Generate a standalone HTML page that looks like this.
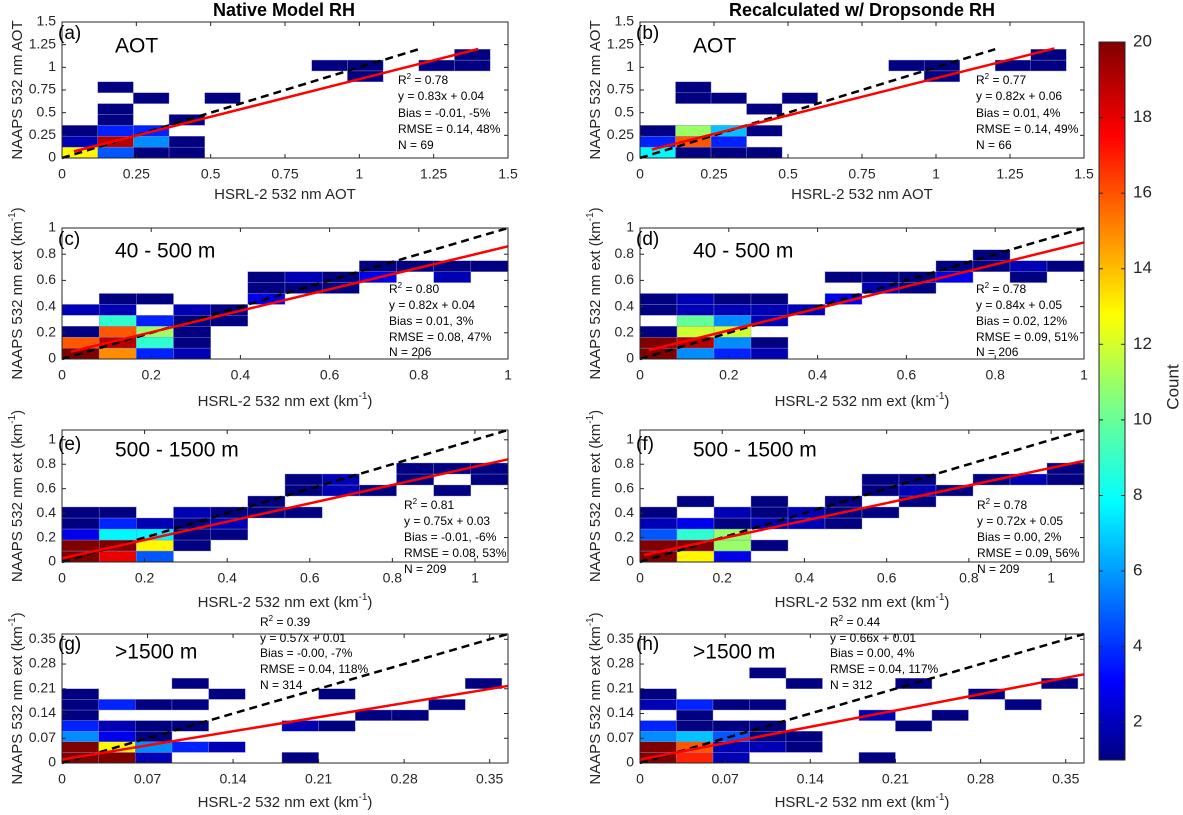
<!DOCTYPE html>
<html><head><meta charset="utf-8"><style>
html,body{margin:0;padding:0;background:#fff;}
svg{display:block;font-family:"Liberation Sans",Arial,sans-serif;}
</style></head><body>
<svg id="fig" width="1183" height="815" viewBox="0 0 1183 815" xmlns="http://www.w3.org/2000/svg">
<defs>
<linearGradient id="jet" x1="0" y1="1" x2="0" y2="0">
<stop offset="0" stop-color="#000080"/><stop offset="0.11" stop-color="#0000ff"/><stop offset="0.36" stop-color="#00ffff"/><stop offset="0.5" stop-color="#80ff80"/><stop offset="0.62" stop-color="#ffff00"/><stop offset="0.87" stop-color="#ff0000"/><stop offset="1" stop-color="#800000"/>
</linearGradient>
</defs>
<text x="284" y="16" font-size="18" font-weight="bold" text-anchor="middle" fill="#000">Native Model RH</text>
<text x="862" y="16" font-size="18" font-weight="bold" text-anchor="middle" fill="#000">Recalculated w/ Dropsonde RH</text>
</svg>
<script>
// ---- data: [column bin, row bin, count] ----
const cellsA = [[0,0,13],[0,1,2],[0,2,1],[1,0,5],[1,1,19],[1,2,4],[1,3,1],[1,4,1],[1,6,1],[2,0,1],[2,1,6],[2,2,4],[2,5,1],[3,0,1],[3,1,1],[3,3,1],[4,5,1],[7,8,1],[8,8,1],[8,7,1],[10,8,1],[11,8,1],[11,9,1]];
const cellsB = [[0,0,8],[0,1,4],[0,2,1],[1,0,1],[1,1,16],[1,2,11],[1,5,1],[1,6,1],[2,0,1],[2,1,4],[2,2,7],[2,5,1],[3,0,1],[3,2,1],[3,4,1],[4,5,1],[7,8,1],[8,8,1],[8,7,1],[10,8,1],[11,8,1],[11,9,1]];
const cellsC = [[0,0,20],[0,1,16],[0,2,1],[0,4,2],[1,0,15],[1,1,19],[1,2,16],[1,3,9],[1,4,2],[1,5,1],[2,0,4],[2,1,9],[2,2,11],[2,3,4],[2,5,1],[3,0,2],[3,1,1],[3,2,1],[3,3,1],[3,4,2],[4,3,1],[4,4,1],[5,5,3],[5,6,1],[5,7,1],[6,6,1],[6,7,2],[7,6,1],[7,7,1],[8,7,3],[8,8,1],[9,8,1],[10,7,2],[10,8,1],[11,8,1]];
const cellsD = [[0,0,20],[0,1,20],[0,2,1],[0,4,1],[0,5,1],[1,0,6],[1,1,19],[1,2,12],[1,3,10],[1,4,2],[1,5,2],[2,0,4],[2,1,6],[2,2,12],[2,3,6],[2,4,2],[2,5,1],[3,0,2],[3,1,1],[3,3,2],[3,4,2],[3,5,1],[4,4,2],[5,5,3],[5,7,1],[6,6,2],[6,7,1],[7,6,1],[7,7,1],[8,7,3],[8,8,1],[9,8,1],[9,9,1],[10,7,1],[10,8,2],[11,8,1]];
const cellsE = [[0,0,20],[0,1,20],[0,2,3],[0,3,1],[0,4,1],[1,0,18],[1,1,20],[1,2,8],[1,3,4],[1,4,1],[2,0,5],[2,1,13],[2,2,8],[2,3,2],[3,1,1],[3,2,1],[3,3,1],[3,4,2],[4,2,1],[4,3,2],[4,4,1],[5,4,1],[5,5,1],[6,4,1],[6,6,1],[6,7,1],[7,6,2],[7,7,2],[8,6,1],[9,7,1],[9,8,1],[10,6,1],[10,8,1],[11,7,1],[11,8,1]];
const cellsF = [[0,0,20],[0,1,20],[0,2,5],[0,3,2],[0,4,1],[1,0,13],[1,1,20],[1,2,9],[1,3,3],[1,5,1],[2,0,3],[2,1,11],[2,2,11],[2,3,1],[2,4,2],[3,1,1],[3,3,2],[3,4,1],[3,5,1],[4,3,2],[4,4,2],[5,3,1],[5,4,1],[5,5,1],[6,4,1],[6,6,1],[6,7,1],[7,5,1],[7,6,2],[7,7,1],[8,6,1],[9,7,1],[10,7,2],[11,7,1],[11,8,1]];
const cellsG = [[0,0,20],[0,1,20],[0,2,6],[0,3,4],[0,4,1],[0,5,1],[0,6,1],[1,0,20],[1,1,13],[1,2,3],[1,3,2],[1,5,4],[2,0,2],[2,1,6],[2,2,1],[2,3,1],[2,5,1],[3,1,4],[3,3,1],[3,5,1],[3,7,1],[4,1,2],[4,6,1],[6,0,1],[6,3,2],[7,3,1],[7,6,1],[8,4,1],[9,4,1],[10,5,1],[11,7,1]];
const cellsH = [[0,0,20],[0,1,20],[0,2,6],[0,3,4],[0,5,2],[0,6,1],[1,0,17],[1,1,16],[1,2,7],[1,3,1],[1,4,1],[1,5,4],[2,0,2],[2,1,2],[2,2,5],[2,3,1],[2,5,1],[3,1,2],[3,2,1],[3,3,1],[3,5,1],[3,8,1],[4,1,1],[4,2,1],[4,7,1],[6,0,1],[6,4,2],[7,3,1],[7,7,1],[8,4,1],[9,6,1],[10,5,1],[11,7,1]];
const slopes = [0.83,0.82,0.82,0.84,0.75,0.72,0.57,0.66];
const intercepts = [0.04,0.06,0.04,0.05,0.03,0.05,0.01,0.01];
const fitStart = [0.04,0.04,0.02,0.02,0,0.01,0,0];
const fitEnd = [1.4,1.4,1,1,1.08,1.08,0.365,0.365];
const oneToOneEnd = [1.2,1.2,1,1,1.08,1.08,0.365,0.365];
const r2Labels = ["0.78","0.77","0.80","0.78","0.81","0.78","0.39","0.44"];
const eqLabels = ["y = 0.83x + 0.04","y = 0.82x + 0.06","y = 0.82x + 0.04","y = 0.84x + 0.05","y = 0.75x + 0.03","y = 0.72x + 0.05","y = 0.57x + 0.01","y = 0.66x + 0.01"];
const biasLabels = ["Bias = -0.01, -5%","Bias = 0.01, 4%","Bias = 0.01, 3%","Bias = 0.02, 12%","Bias = -0.01, -6%","Bias = 0.00, 2%","Bias = -0.00, -7%","Bias = 0.00, 4%"];
const rmseLabels = ["RMSE = 0.14, 48%","RMSE = 0.14, 49%","RMSE = 0.08, 47%","RMSE = 0.09, 51%","RMSE = 0.08, 53%","RMSE = 0.09, 56%","RMSE = 0.04, 118%","RMSE = 0.04, 117%"];
const nLabels = ["N = 69","N = 66","N = 206","N = 206","N = 209","N = 209","N = 314","N = 312"];
const aotTicks = ["0","0.25","0.5","0.75","1","1.25","1.5"];
const extTicks = ["0","0.2","0.4","0.6","0.8","1"];
const highTicks = ["0","0.07","0.14","0.21","0.28","0.35"];
const cbTicks = ["2","4","6","8","10","12","14","16","18","20"];
const panelLetters = ["(a)","(b)","(c)","(d)","(e)","(f)","(g)","(h)"];
const regionLabels = ["AOT","AOT","40 - 500 m","40 - 500 m","500 - 1500 m","500 - 1500 m",">1500 m",">1500 m"];
const binSizes = [0.12,0.12,1/12,1/12,0.09,0.09,0.03,0.03];
const axisMax = [1.5,1.5,1,1,1.08,1.08,0.365,0.365];

// ---- layout (not data) ----
const NS="http://www.w3.org/2000/svg";
const svg=document.getElementById('fig');
const colX=[[62,508],[640,1084]];
const rowY=[[22,158],[228,359],[430,562],[634,763]];
const statX=[[398,976],[389,976],[404,977],[260,830]];
const statY=[[81,97,114,130,146],[290,306,322,338,353],[506,522,538,554,570],[623,639,654,670,686]];
const xTitleY=[195,402,603,803];
const letterY=[34,240,445,645];
const regionY=[47,252,451,653];
const allCells=[cellsA,cellsB,cellsC,cellsD,cellsE,cellsF,cellsG,cellsH];

function mk(tag,attrs,parent){const e=document.createElementNS(NS,tag);for(const k in attrs)e.setAttribute(k,attrs[k]);(parent||svg).appendChild(e);return e;}
function jet(v){const t=Math.max(0,Math.min(1,(v-1)/19));const c=x=>Math.round(255*Math.max(0,Math.min(1,1.5-Math.abs(4*t-x))));return `rgb(${c(3)},${c(2)},${c(1)})`;}

for(let p=0;p<8;p++){
  const col=p%2,row=Math.floor(p/2);
  const [x0,x1]=colX[col],[y0,y1]=rowY[row];
  const max=axisMax[p];
  const sx=v=>x0+(v/max)*(x1-x0);
  const sy=v=>y1-(v/max)*(y1-y0);
  const g=mk('g',{});
  
  
  const bs=binSizes[p];
  for(const c of allCells[p]){
    const r=mk('rect',{x:sx(c[0]*bs),y:sy((c[1]+1)*bs),width:sx((c[0]+1)*bs)-sx(c[0]*bs),height:sy(c[1]*bs)-sy((c[1]+1)*bs),fill:jet(c[2]),stroke:'#8a8ac8','stroke-width':0.4},g);
    
    
  }
  const d=mk('line',{x1:sx(0),y1:sy(0),x2:sx(oneToOneEnd[p]),y2:sy(oneToOneEnd[p]),stroke:'#000','stroke-width':2.5,'stroke-dasharray':'8,5'},g);
  
  
  const f=mk('line',{x1:sx(fitStart[p]),y1:sy(slopes[p]*fitStart[p]+intercepts[p]),x2:sx(fitEnd[p]),y2:sy(slopes[p]*fitEnd[p]+intercepts[p]),stroke:'#ff0000','stroke-width':2.5},g);
  
  
  const fr=mk('rect',{x:x0,y:y0,width:x1-x0,height:y1-y0,fill:'none',stroke:'#262626','stroke-width':1},g);
  
  
  const ticks=row===0?aotTicks:(row===3?highTicks:extTicks);
  for(const t of ticks){
    const v=parseFloat(t);
    mk('line',{x1:sx(v),y1:y1,x2:sx(v),y2:y1-4,stroke:'#262626'},g);
    mk('line',{x1:sx(v),y1:y0,x2:sx(v),y2:y0+4,stroke:'#262626'},g);
    mk('line',{x1:x0,y1:sy(v),x2:x0+4,y2:sy(v),stroke:'#262626'},g);
    mk('line',{x1:x1,y1:sy(v),x2:x1-4,y2:sy(v),stroke:'#262626'},g);
    const xl=mk('text',{x:sx(v),y:y1+17,'font-size':14,'text-anchor':'middle','dominant-baseline':'middle',fill:'#262626'},g);
    xl.textContent=t;
    
    
    const yl=mk('text',{x:x0-6,y:sy(v),'font-size':14,'text-anchor':'end','dominant-baseline':'middle',fill:'#262626'},g);
    yl.textContent=t;
    
    
  }
  const xt=mk('text',{x:(x0+x1)/2,y:xTitleY[row],'font-size':15,'text-anchor':'middle','dominant-baseline':'middle',fill:'#262626'},g);
  
  
  const ytx=col===0?18:596, yc=(y0+y1)/2;
  const yt=mk('text',{x:ytx,y:yc,'font-size':15,'text-anchor':'middle','dominant-baseline':'middle',fill:'#262626',transform:`rotate(-90 ${ytx} ${yc})`},g);
  
  
  if(row===0){xt.textContent='HSRL-2 532 nm AOT';yt.textContent='NAAPS 532 nm AOT';}
  else{
    xt.textContent='HSRL-2 532 nm ext (km';
    mk('tspan',{'baseline-shift':'super','font-size':10},xt).textContent='-1';
    mk('tspan',{},xt).textContent=')';
    yt.textContent='NAAPS 532 nm ext (km';
    mk('tspan',{'baseline-shift':'super','font-size':10},yt).textContent='-1';
    mk('tspan',{},yt).textContent=')';
  }
  const pl=mk('text',{x:x0-4,y:letterY[row],'font-size':19,'dominant-baseline':'middle',fill:'#000'},g);
  pl.textContent=panelLetters[p];
  
  
  const rl=mk('text',{x:x0+53,y:regionY[row],'font-size':21,'dominant-baseline':'middle',fill:'#000'},g);
  rl.textContent=regionLabels[p];
  
  
  const stx=statX[row][col], sty=statY[row];
  const lines=[null,eqLabels[p],biasLabels[p],rmseLabels[p],nLabels[p]];
  for(let i=0;i<5;i++){
    const s=mk('text',{x:stx,y:sty[i],'font-size':12,'dominant-baseline':'middle',fill:'#000'},g);
    
    
    if(i===0){s.textContent='R';mk('tspan',{'baseline-shift':'super','font-size':8},s).textContent='2';mk('tspan',{},s).textContent=' = '+r2Labels[p];}
    else s.textContent=lines[i];
  }
}
const cbX0=1099,cbX1=1125,cbY0=42,cbY1=760;
const cy=v=>cbY1-(v-1)/19*(cbY1-cbY0);
const cb=mk('rect',{x:cbX0,y:cbY0,width:cbX1-cbX0,height:cbY1-cbY0,fill:'url(#jet)',stroke:'#262626','stroke-width':1});


for(const t of cbTicks){
  const v=parseFloat(t);
  mk('line',{x1:cbX1,y1:cy(v),x2:cbX1-4,y2:cy(v),stroke:'#262626'});
  mk('line',{x1:cbX0,y1:cy(v),x2:cbX0+4,y2:cy(v),stroke:'#262626'});
  const l=mk('text',{x:1133,y:cy(v),'font-size':17,'dominant-baseline':'middle',fill:'#262626'});
  l.textContent=t;
  
  
}
const cl=mk('text',{x:1174,y:387,'font-size':17,'text-anchor':'middle','dominant-baseline':'middle',fill:'#262626',transform:'rotate(-90 1174 387)'});
cl.textContent='Count';


</script>
</body></html>
